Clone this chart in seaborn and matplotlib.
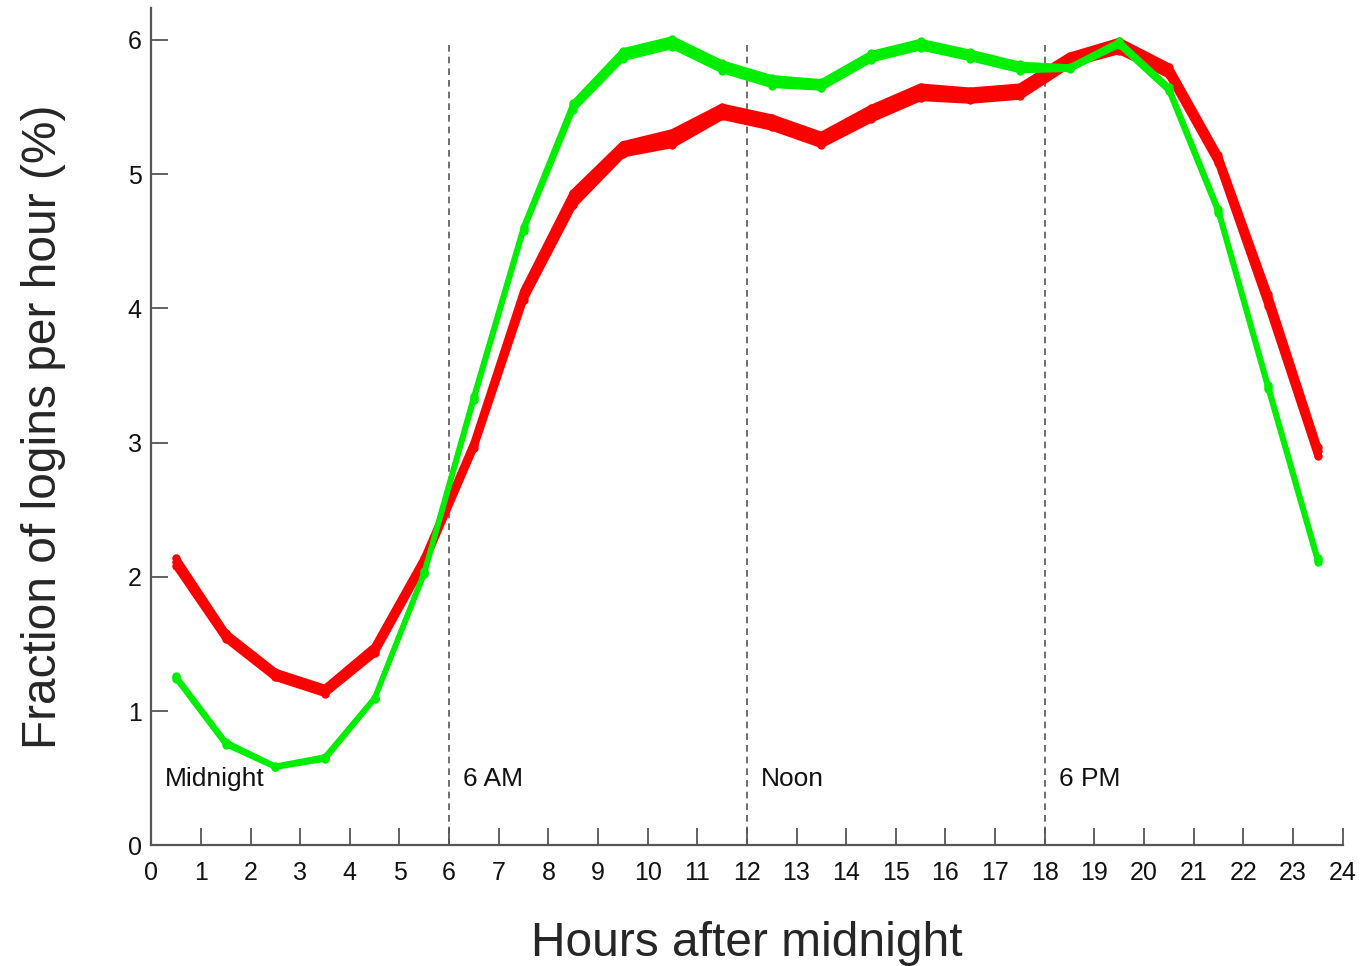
import numpy as np
import pandas as pd
import matplotlib
matplotlib.use("Agg")
import matplotlib.pyplot as plt
import seaborn as sns

hours = [h + 0.5 for h in range(24)]

red_hi = [2.14, 1.58, 1.29, 1.17, 1.48, 2.14, 3.00, 4.13, 4.86, 5.22, 5.31, 5.50, 5.42, 5.29, 5.49, 5.65, 5.62, 5.65, 5.88, 5.99, 5.80, 5.14, 4.11, 2.97]
red_mid = [2.11, 1.56, 1.27, 1.15, 1.45, 2.12, 2.98, 4.10, 4.82, 5.19, 5.27, 5.47, 5.39, 5.26, 5.45, 5.61, 5.59, 5.62, 5.85, 5.95, 5.77, 5.11, 4.07, 2.94]
red_lo = [2.08, 1.54, 1.25, 1.13, 1.43, 2.10, 2.96, 4.06, 4.77, 5.15, 5.22, 5.43, 5.35, 5.22, 5.41, 5.57, 5.55, 5.58, 5.82, 5.92, 5.74, 5.08, 4.02, 2.90]

green_hi = [1.26, 0.77, 0.59, 0.66, 1.10, 2.04, 3.35, 4.61, 5.53, 5.92, 6.01, 5.83, 5.72, 5.69, 5.90, 5.99, 5.91, 5.82, 5.80, 5.99, 5.65, 4.74, 3.43, 2.14]
green_mid = [1.25, 0.76, 0.585, 0.65, 1.095, 2.03, 3.335, 4.595, 5.505, 5.89, 5.98, 5.80, 5.69, 5.665, 5.875, 5.965, 5.885, 5.795, 5.79, 5.975, 5.635, 4.725, 3.415, 2.125]
green_lo = [1.24, 0.75, 0.58, 0.64, 1.09, 2.02, 3.32, 4.58, 5.48, 5.86, 5.95, 5.77, 5.66, 5.64, 5.85, 5.94, 5.86, 5.77, 5.78, 5.96, 5.62, 4.71, 3.40, 2.11]

red_series = [red_hi, red_mid, red_lo]
green_series = [green_hi, green_mid, green_lo]

x_ticks = list(range(0, 25))
y_ticks = [0, 1, 2, 3, 4, 5, 6]
period_marks = [0, 6, 12, 18]
period_labels = ["Midnight", "6 AM", "Noon", "6 PM"]

sns.set_style("ticks")
plt.rcParams['font.family'] = ['Liberation Sans', 'DejaVu Sans']

fig = plt.figure(figsize=(13.63, 9.66), dpi=100)
ax = fig.add_axes([0.111, 0.125, 0.874, 0.867])

for s in red_series:
    sns.lineplot(x=hours, y=s, ax=ax, color="#ff0000", linewidth=5,
                 marker="o", markersize=6, markeredgewidth=0)
for s in green_series:
    sns.lineplot(x=hours, y=s, ax=ax, color="#00ee00", linewidth=3.6,
                 marker="o", markersize=6, markeredgewidth=0)

for m, lab in zip(period_marks, period_labels):
    if m > 0:
        ax.vlines(m, 0, 6, colors="#555555", linestyles=(0, (4, 3)), linewidth=1.2, zorder=1)
    ax.text(m + 0.28, 0.49, lab, fontsize=19, ha="left", va="center", color="#111111")

ax.set_xlim(0, 24)
ax.set_ylim(0, 6.24)
ax.set_xticks(x_ticks)
ax.set_yticks(y_ticks)
ax.tick_params(direction="in", length=12, width=1.3, labelsize=18, colors="#555555",
               labelcolor="#111111", pad=7)
ax.tick_params(axis="x", pad=11)
for sp in ["top", "right"]:
    ax.spines[sp].set_visible(False)
for sp in ["left", "bottom"]:
    ax.spines[sp].set_linewidth(1.6)
    ax.spines[sp].set_color("#555555")

ax.set_xlabel("Hours after midnight", fontsize=34.5, labelpad=26)
ax.set_ylabel("Fraction of logins per hour (%)", fontsize=34.5, labelpad=44)

fig.savefig("out.png", dpi=100)
